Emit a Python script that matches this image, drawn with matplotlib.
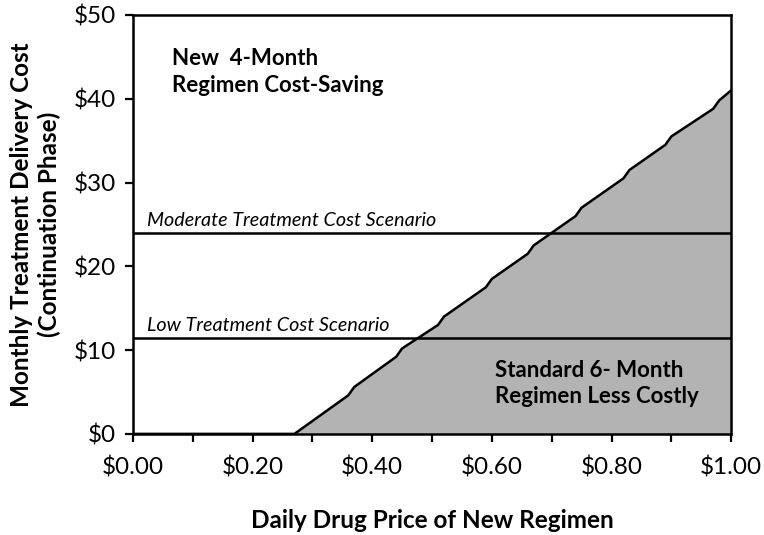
import numpy as np
import matplotlib.pyplot as plt
from matplotlib.ticker import FuncFormatter, MultipleLocator

plt.rcParams['font.family'] = ['Lato', 'DejaVu Sans']

# threshold: daily drug price vs monthly delivery cost
price = [0.0, 0.27, 0.36, 0.37, 0.44, 0.45, 0.51, 0.52, 0.59, 0.60, 0.66, 0.67,
         0.74, 0.75, 0.82, 0.83, 0.89, 0.90, 0.97, 0.98, 1.00]
cost = [0, 0, 4.6, 5.6, 9.2, 10.2, 13.0, 14.0, 17.5, 18.5, 21.5, 22.5,
        26.0, 27.0, 30.5, 31.5, 34.5, 35.5, 38.8, 39.8, 41.0]
moderate_cost = 24.0
low_cost = 11.4

fig = plt.figure(figsize=(7.64, 5.35), dpi=100)
ax = fig.add_axes([0.174, 0.189, 0.783, 0.783])

ax.fill_between(price, cost, 0, color='#b3b3b3', lw=0)
ax.plot(price, cost, color='black', lw=1.8)
ax.axhline(moderate_cost, color='black', lw=1.8)
ax.axhline(low_cost, color='black', lw=1.8)

ax.text(0.023, moderate_cost + 0.5, 'Moderate Treatment Cost Scenario',
        style='italic', fontsize=14.2, va='bottom')
ax.text(0.023, low_cost + 0.5, 'Low Treatment Cost Scenario',
        style='italic', fontsize=14.2, va='bottom')
ax.text(0.065, 46, 'New  4-Month\nRegimen Cost-Saving', fontsize=16,
        fontweight='bold', va='top', linespacing=1.3)
ax.text(0.605, 8.8, 'Standard 6- Month\nRegimen Less Costly', fontsize=16,
        fontweight='bold', va='top', linespacing=1.3)

ax.set_xlim(0, 1)
ax.set_ylim(0, 50)
ax.xaxis.set_major_locator(MultipleLocator(0.2))
ax.xaxis.set_minor_locator(MultipleLocator(0.1))
ax.yaxis.set_major_locator(MultipleLocator(10))
ax.xaxis.set_major_formatter(FuncFormatter(lambda v, p: '$%.2f' % v))
ax.yaxis.set_major_formatter(FuncFormatter(lambda v, p: '$%d' % v))
ax.tick_params(which='both', direction='out', length=6, width=1.6, labelsize=17.5)
ax.tick_params(axis='x', pad=10)
ax.tick_params(axis='y', pad=6)
for s in ax.spines.values():
    s.set_linewidth(1.8)

ax.set_xlabel('Daily Drug Price of New Regimen', fontsize=17.5, fontweight='bold', labelpad=22)
ax.set_ylabel('Monthly Treatment Delivery Cost\n(Continuation Phase)', fontsize=17.5,
              fontweight='bold', labelpad=9, linespacing=1.25)

plt.savefig('out.png')
